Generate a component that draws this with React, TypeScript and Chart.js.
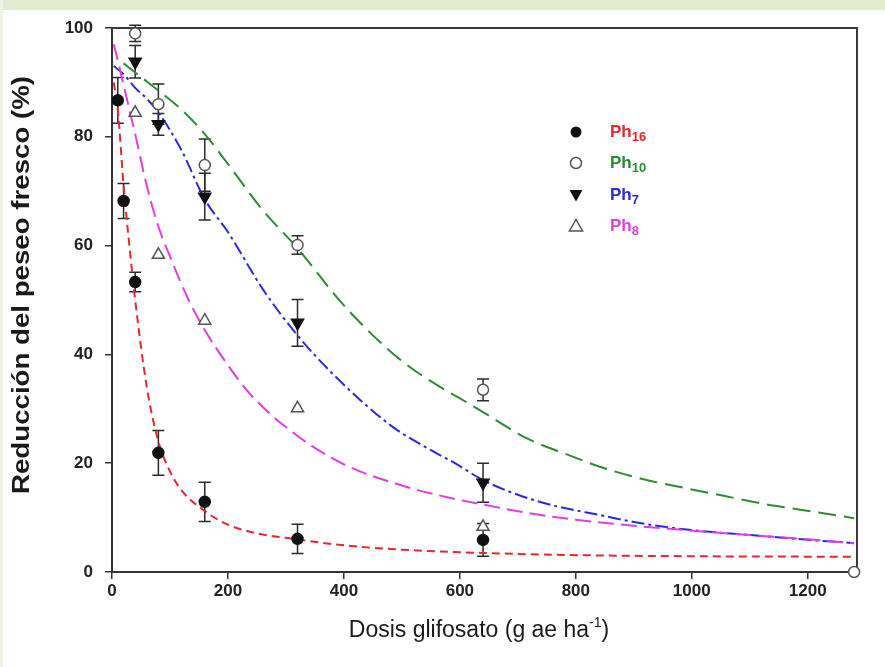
import React, { useEffect, useRef } from 'react';
import { Chart, registerables } from 'chart.js';

Chart.register(...registerables);

// ---- observed means and standard errors ----
const doses16 = [10, 20, 40, 80, 160, 320, 640];
const ph16 = [86.7, 68.2, 53.3, 21.9, 12.9, 6.1, 5.9];
const ph16Err = [4.2, 3.2, 1.8, 4.1, 3.6, 2.7, 3.0];

const doses10 = [40, 80, 160, 320, 640, 1280];
const ph10 = [99, 86, 74.8, 60.1, 33.5, 0];
const ph10Err = [1.5, 3.7, 4.8, 1.7, 2.0, 0];

const doses7 = [40, 80, 160, 320, 640];
const ph7 = [93.8, 82.3, 69, 45.8, 16.4];
const ph7Err = [3.0, 2.0, 4.3, 4.3, 3.6];

const doses8 = [40, 80, 160, 320, 640];
const ph8 = [84.4, 58.3, 46.2, 30.1, 8.3];

// ---- fitted curves ----
const curveX16 = [3, 10, 20, 30, 40, 60, 80, 100, 120, 160, 200, 250, 320, 400, 500, 640, 800, 1000, 1280];
const curveY16 = [90, 85, 71, 60, 50, 34, 24, 18.5, 15, 11.2, 8.7, 7.1, 6.0, 4.9, 4.1, 3.5, 3.1, 2.9, 2.8];

const curveX8 = [3, 10, 20, 30, 40, 60, 80, 100, 130, 160, 200, 240, 320, 400, 500, 580, 640, 715, 800, 890, 990, 1100, 1200, 1280];
const curveY8 = [97, 94, 89.5, 85, 80.5, 71, 63.5, 58, 50.5, 44.5, 38, 32.5, 25, 19.8, 15.9, 13.7, 12.4, 10.9, 9.6, 8.6, 7.7, 6.8, 6.0, 5.3];

const curveX7 = [3, 20, 40, 60, 80, 120, 160, 200, 260, 320, 380, 480, 540, 590, 640, 700, 770, 840, 910, 1000, 1100, 1190, 1280];
const curveY7 = [93, 91.5, 89, 87, 84.5, 77.5, 68.5, 62.5, 52, 43.5, 36.5, 27, 23, 20.1, 16.9, 14.2, 12, 10.5, 9, 7.7, 6.8, 6.0, 5.3];

const curveX10 = [20, 50, 80, 120, 160, 200, 260, 320, 400, 500, 640, 715, 790, 840, 915, 985, 1055, 1120, 1190, 1280];
const curveY10 = [93.5, 91, 88.5, 85, 80.5, 75, 66.5, 59.5, 49, 38.8, 29.4, 24.6, 21.4, 19.4, 17.1, 15.5, 14, 12.6, 11.4, 9.9];

const xTicks = [0, 200, 400, 600, 800, 1000, 1200];
const yTicks = [0, 20, 40, 60, 80, 100];

const legendLabels = ['16', '10', '7', '8'];

const RED = '#e6282c';
const GREEN = '#2f8a34';
const BLUE = '#2b2bd6';
const MAGENTA = '#e03ee0';
const FONT = '"Liberation Sans", Arial, sans-serif';

const pts = (xs: number[], ys: number[]) => xs.map((x, i) => ({ x, y: ys[i] }));

const errorBarPlugin = {
  id: 'errorBars',
  beforeDatasetsDraw(chart: any) {
    const { ctx, scales } = chart;
    ctx.save();
    ctx.strokeStyle = '#2a2a2a';
    ctx.lineWidth = 1.5;
    chart.data.datasets.forEach((ds: any) => {
      if (!ds.errors) return;
      ds.data.forEach((p: any, i: number) => {
        const e = ds.errors[i];
        if (!e) return;
        const x = scales.x.getPixelForValue(p.x);
        const y1 = scales.y.getPixelForValue(p.y + e);
        const y2 = scales.y.getPixelForValue(p.y - e);
        ctx.beginPath();
        ctx.moveTo(x, y1);
        ctx.lineTo(x, y2);
        ctx.moveTo(x - 6, y1);
        ctx.lineTo(x + 6, y1);
        ctx.moveTo(x - 6, y2);
        ctx.lineTo(x + 6, y2);
        ctx.stroke();
      });
    });
    ctx.restore();
  },
};

const framePlugin = {
  id: 'frame',
  beforeDatasetsDraw(chart: any) {
    const { ctx, chartArea } = chart;
    ctx.save();
    ctx.strokeStyle = '#3a3a3a';
    ctx.lineWidth = 2;
    ctx.beginPath();
    ctx.moveTo(chartArea.left, chartArea.top);
    ctx.lineTo(chartArea.right, chartArea.top);
    ctx.lineTo(chartArea.right, chartArea.bottom);
    ctx.stroke();
    ctx.restore();
  },
};

function drawMarker(ctx: CanvasRenderingContext2D, kind: string, x: number, y: number) {
  ctx.save();
  ctx.lineWidth = 1.5;
  ctx.beginPath();
  if (kind === 'dot' || kind === 'ring') {
    ctx.arc(x, y, 5.5, 0, Math.PI * 2);
  } else if (kind === 'down') {
    ctx.moveTo(x - 6.5, y - 5);
    ctx.lineTo(x + 6.5, y - 5);
    ctx.lineTo(x, y + 6.5);
    ctx.closePath();
  } else {
    ctx.moveTo(x - 6.5, y + 5);
    ctx.lineTo(x + 6.5, y + 5);
    ctx.lineTo(x, y - 6.5);
    ctx.closePath();
  }
  if (kind === 'dot' || kind === 'down') {
    ctx.fillStyle = '#111';
    ctx.fill();
  } else {
    ctx.fillStyle = '#fff';
    ctx.fill();
    ctx.strokeStyle = '#555';
    ctx.stroke();
  }
  ctx.restore();
}

const legendPlugin = {
  id: 'customLegend',
  afterDraw(chart: any) {
    const { ctx } = chart;
    const kinds = ['dot', 'ring', 'down', 'up'];
    const colors = [RED, GREEN, BLUE, MAGENTA];
    const rows = [132, 163, 195, 226];
    ctx.save();
    legendLabels.forEach((lab, i) => {
      drawMarker(ctx, kinds[i], 576, rows[i]);
      ctx.fillStyle = colors[i];
      ctx.textBaseline = 'middle';
      ctx.textAlign = 'left';
      ctx.font = `bold 17px ${FONT}`;
      ctx.fillText('Ph', 610, rows[i]);
      const w = ctx.measureText('Ph').width;
      ctx.font = `bold 13px ${FONT}`;
      ctx.fillText(lab, 610 + w, rows[i] + 5);
    });
    ctx.restore();
  },
};

const titlePlugin = {
  id: 'axisTitles',
  afterDraw(chart: any) {
    const { ctx } = chart;
    // y title
    ctx.save();
    ctx.fillStyle = '#1a1a1a';
    ctx.translate(23, 285);
    ctx.rotate(-Math.PI / 2);
    ctx.font = `bold 23px ${FONT}`;
    ctx.textAlign = 'center';
    ctx.textBaseline = 'middle';
    const yt = 'Reducción del peseo fresco (%)';
    const wy = ctx.measureText(yt).width;
    ctx.scale(418 / wy, 1);
    ctx.fillText(yt, 0, 0);
    ctx.restore();

    // x title
    ctx.save();
    ctx.fillStyle = '#1a1a1a';
    ctx.textBaseline = 'alphabetic';
    ctx.textAlign = 'left';
    const main = 'Dosis glifosato (g ae ha';
    const sup = '-1';
    const end = ')';
    ctx.font = `23px ${FONT}`;
    const wMain = ctx.measureText(main).width;
    const wEnd = ctx.measureText(end).width;
    ctx.font = `14px ${FONT}`;
    const wSup = ctx.measureText(sup).width;
    const total = wMain + wSup + wEnd;
    let x = 479 - total / 2;
    const base = 637;
    ctx.font = `23px ${FONT}`;
    ctx.fillText(main, x, base);
    x += wMain;
    ctx.font = `14px ${FONT}`;
    ctx.fillText(sup, x, base - 10);
    x += wSup;
    ctx.font = `23px ${FONT}`;
    ctx.fillText(end, x, base);
    ctx.restore();
  },
};

export default function App() {
  const ref = useRef<HTMLCanvasElement>(null);

  useEffect(() => {
    if (!ref.current) return;
    const curve = (xs: number[], ys: number[], color: string, dash: number[]) => ({
      type: 'line' as const,
      data: pts(xs, ys),
      showLine: true,
      borderColor: color,
      borderWidth: 2,
      borderDash: dash,
      pointRadius: 0,
      fill: false,
      cubicInterpolationMode: 'monotone' as const,
      order: 3,
    });
    const marks = (xs: number[], ys: number[], style: string, filled: boolean, rotation: number, errors?: number[]) => ({
      type: 'scatter' as const,
      data: pts(xs, ys),
      pointStyle: style,
      rotation,
      pointRadius: style === 'circle' ? 5.5 : 7,
      pointBackgroundColor: filled ? '#111' : '#fff',
      pointBorderColor: filled ? '#111' : '#555',
      pointBorderWidth: 1.5,
      showLine: false,
      clip: false,
      errors,
      order: 1,
    });

    const chart = new Chart(ref.current, {
      type: 'scatter',
      data: {
        datasets: [
          curve(curveX16, curveY16, RED, [8, 5]),
          curve(curveX8, curveY8, MAGENTA, [16, 7]),
          curve(curveX7, curveY7, BLUE, [13, 4, 3, 4]),
          curve(curveX10, curveY10, GREEN, [18, 8]),
          marks(doses8, ph8, 'triangle', false, 0),
          marks(doses10, ph10, 'circle', false, 0, ph10Err),
          marks(doses7, ph7, 'triangle', true, 180, ph7Err),
          marks(doses16, ph16, 'circle', true, 0, ph16Err),
        ] as any,
      },
      options: {
        animation: false,
        responsive: false,
        devicePixelRatio: 1,
        layout: { padding: { top: 28, right: 28, left: 0, bottom: 0 } },
        plugins: { legend: { display: false }, tooltip: { enabled: false } },
        scales: {
          x: {
            type: 'linear',
            min: 0,
            max: 1285,
            afterFit: (s: any) => { s.height = 95; },
            afterBuildTicks: (s: any) => { s.ticks = xTicks.map((v) => ({ value: v })); },
            ticks: {
              includeBounds: false,
              padding: 2,
              color: '#222',
              font: { family: FONT, size: 17, weight: 'bold' },
              maxRotation: 0,
              callback: (v: any) => String(v),
            },
            grid: { display: true, drawOnChartArea: false, drawTicks: true, tickLength: 7, color: '#333', lineWidth: 1.5 },
            border: { display: true, color: '#333', width: 2 },
          },
          y: {
            type: 'linear',
            min: 0,
            max: 100,
            afterFit: (s: any) => { s.width = 112; },
            afterBuildTicks: (s: any) => { s.ticks = yTicks.map((v) => ({ value: v })); },
            ticks: {
              padding: 12,
              color: '#222',
              font: { family: FONT, size: 17, weight: 'bold' },
              callback: (v: any) => String(v),
            },
            grid: { display: true, drawOnChartArea: false, drawTicks: true, tickLength: 7, color: '#333', lineWidth: 1.5 },
            border: { display: true, color: '#333', width: 2 },
          },
        },
      } as any,
      plugins: [errorBarPlugin, framePlugin, legendPlugin, titlePlugin],
    });
    return () => chart.destroy();
  }, []);

  return (
    <div style={{ position: 'fixed', left: 0, top: 0, width: 885, height: 667, background: '#fff', overflow: 'hidden' }}>
      <canvas ref={ref} width={885} height={667} style={{ position: 'absolute', left: 0, top: 0, width: 885, height: 667 }} />
      <div style={{ position: 'absolute', left: 0, top: 0, width: 885, height: 10, background: '#e3ebd1' }} />
      <div style={{ position: 'absolute', left: 0, top: 0, width: 3, height: 667, background: '#eef3e4' }} />
    </div>
  );
}
